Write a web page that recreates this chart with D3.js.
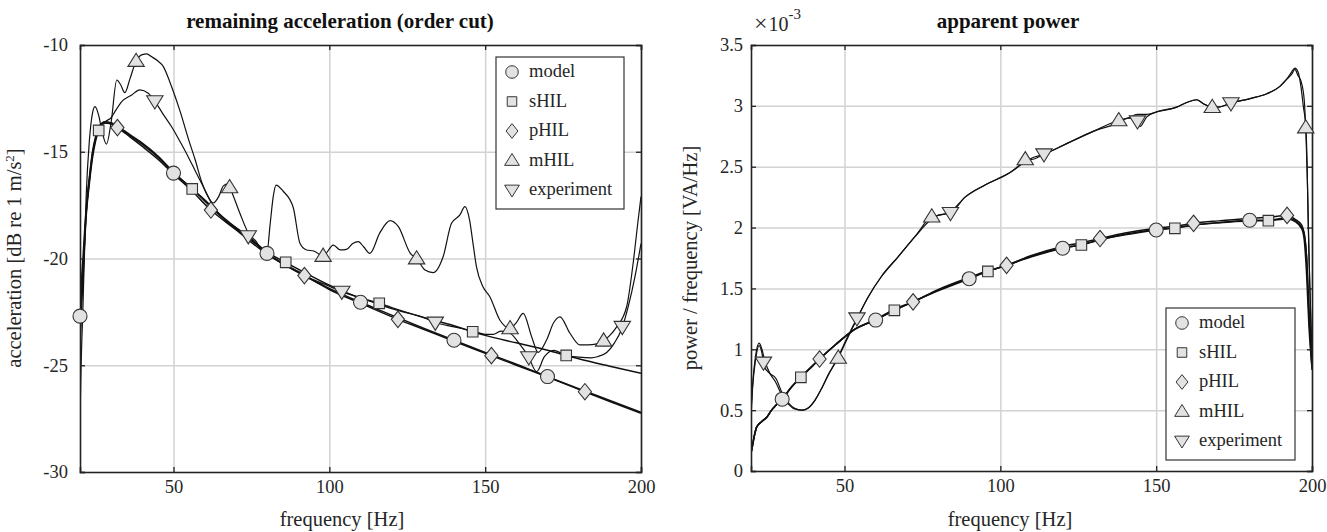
<!DOCTYPE html>
<html><head><meta charset="utf-8">
<script src="https://cdn.jsdelivr.net/npm/d3@7"></script>
<style>
body{margin:0;background:#fff}
svg{display:block}
text{font-family:"Liberation Serif","Times New Roman",serif;fill:#262626}
</style>
</head><body>
<svg id="c" width="1327" height="532"></svg>
<script>
// ---------------- DATA ----------------
const seriesNames = ["model", "sHIL", "pHIL", "mHIL", "experiment"];
const xTicks = [50, 100, 150, 200];
const leftYTicks = [-30, -25, -20, -15, -10];
const rightYTicks = [0, 0.5, 1, 1.5, 2, 2.5, 3, 3.5];

// Left: remaining acceleration (dB re 1 m/s^2)
const L_model_f = [19.6, 20, 21, 22, 23, 24, 25, 26, 28, 30, 32, 36, 40, 45, 50, 55, 60, 65, 70, 75, 80, 90, 100, 110, 120, 130, 140, 150, 160, 170, 180, 190, 200];
const L_model_v = [-45, -22.7, -19.9, -17.6, -16.2, -15.0, -14.3, -13.85, -13.6, -13.65, -13.85, -14.25, -14.65, -15.25, -16.0, -16.6, -17.3, -18.0, -18.6, -19.15, -19.76, -20.65, -21.4, -22.05, -22.65, -23.25, -23.83, -24.4, -24.95, -25.53, -26.1, -26.65, -27.2];

const L_shil_f = [19.6, 20, 21, 22, 23, 24, 25, 26, 28, 30, 32, 36, 40, 45, 50, 56, 60, 65, 70, 75, 80, 86, 90, 100, 110, 116, 120, 130, 140, 146, 150, 160, 170, 176, 180, 190, 200];
const L_shil_v = [-45, -24.5, -20.8, -18.0, -16.5, -15.3, -14.5, -14.0, -13.65, -13.65, -13.8, -14.2, -14.6, -15.2, -15.95, -16.74, -17.25, -17.95, -18.55, -19.1, -19.7, -20.18, -20.5, -21.25, -21.85, -22.1, -22.3, -22.75, -23.15, -23.43, -23.6, -23.95, -24.3, -24.54, -24.7, -25.05, -25.38];

const L_phil_f = [19.6, 20, 21, 22, 23, 24, 25, 26, 28, 30, 32, 36, 40, 45, 50, 55, 62, 70, 80, 92, 100, 110, 122, 130, 140, 152, 160, 170, 182, 190, 200];
const L_phil_v = [-45, -23.8, -20.5, -17.8, -16.3, -15.1, -14.4, -13.9, -13.65, -13.7, -13.87, -14.3, -14.75, -15.35, -16.05, -16.7, -17.73, -18.65, -19.8, -20.8, -21.45, -22.1, -22.85, -23.3, -23.88, -24.55, -25.0, -25.55, -26.24, -26.7, -27.25];

const L_mhil_f = [19.6, 20, 21, 22, 23, 24, 24.8, 26, 27, 28.5, 30, 31.8, 33, 34.4, 36, 38, 40, 41.4, 43, 45, 46.7, 49, 52, 55, 57, 59, 60.6, 62.8, 64.5, 66, 67.5, 69, 71.3, 74, 76.5, 78.8, 80, 81, 82, 82.9, 85.2, 88.4, 90.6, 92.7, 95, 98, 101.3, 103.5, 105.5, 107.5, 109.3, 111, 113, 116.2, 119.5, 122.1, 126, 128, 130.7, 133.3, 136.5, 139.2, 141.9, 143.5, 145, 146.2, 147.2, 149.3, 151.5, 154.7, 158, 160, 162.2, 164.9, 167, 169.7, 172, 174, 177.2, 180.4, 183, 185.8, 188, 190, 192.2, 195.4, 197.5, 199, 200];
const L_mhil_v = [-45, -28, -22, -17, -14.5, -13.2, -12.89, -13.3, -14.0, -14.64, -13.6, -11.64, -11.85, -12.23, -11.6, -10.75, -10.45, -10.42, -10.55, -10.75, -11.0, -11.8, -13.05, -14.5, -15.4, -16.4, -16.95, -17.4, -17.1, -16.6, -16.5, -17.0, -17.88, -18.8, -19.2, -19.68, -19.7, -18.4, -17.1, -16.56, -16.85, -17.6, -19.3, -19.6, -19.65, -19.88, -19.37, -19.6, -19.57, -19.3, -19.21, -19.45, -19.76, -18.8, -18.23, -18.5, -19.76, -20.0, -20.54, -20.66, -19.92, -18.35, -17.96, -17.57, -18.2, -19.4, -20.38, -21.32, -21.79, -22.88, -23.27, -23.0, -22.57, -23.66, -24.4, -23.82, -23.0, -22.73, -23.5, -24.05, -24.05, -24.0, -23.85, -23.6, -23.2, -22.26, -20.2, -18.3, -17.1];

const L_exp_f = [19.6, 20, 21, 22, 23, 24, 25, 26, 28, 30, 31.2, 33.4, 36.6, 39.2, 41.9, 44.1, 46.5, 49.4, 52, 54.7, 57, 59, 62.2, 66.5, 70, 74, 77, 80, 85, 90, 95, 100, 104, 110, 116, 120, 125, 130, 134, 140, 146, 150, 152.6, 155, 158, 161, 163.8, 166.5, 169, 172, 176, 180, 184, 186, 189, 191.5, 193.8, 196, 198, 200];
const L_exp_v = [-45, -24.0, -20.6, -17.9, -16.4, -15.2, -14.4, -13.95, -13.6, -13.4, -13.12, -12.65, -12.34, -12.1, -12.26, -12.65, -13.2, -13.83, -14.5, -15.23, -15.9, -16.48, -17.41, -18.2, -18.55, -18.95, -19.35, -19.75, -20.2, -20.6, -21.0, -21.3, -21.55, -21.85, -22.15, -22.35, -22.55, -22.75, -23.0, -23.2, -23.4, -23.55, -23.55, -23.4, -23.5, -24.0, -24.57, -25.3, -24.6, -24.3, -24.55, -24.62, -24.65, -24.6, -24.4, -23.95, -23.3, -22.2, -20.9, -19.3];

// Right: apparent power / frequency (x 10^-3 VA/Hz)
const R_model_f = [20, 20.2, 21, 21.8, 23.4, 25, 26.6, 28, 30, 33, 36, 40, 42, 47, 53, 60, 66, 72, 80, 90, 96, 102, 110, 120, 126, 132, 140, 150, 156, 162, 170, 180, 186, 192, 194.5, 196.7, 197.5, 198.3, 199, 200];
const R_model_v = [0.15, 0.17, 0.28, 0.36, 0.405, 0.44, 0.50, 0.54, 0.59, 0.69, 0.77, 0.87, 0.92, 1.035, 1.16, 1.24, 1.32, 1.39, 1.48, 1.58, 1.64, 1.69, 1.76, 1.83, 1.86, 1.90, 1.94, 1.98, 2.0, 2.02, 2.04, 2.06, 2.06, 2.08, 2.06, 2.0, 1.95, 1.73, 1.3, 0.83];

const R_shil_f = [20, 20.2, 21, 21.8, 23.4, 25, 26.6, 28, 30, 33, 36, 40, 42, 47, 53, 60, 66, 72, 80, 90, 96, 102, 110, 120, 126, 132, 140, 150, 156, 162, 170, 180, 186, 192, 194.5, 196.7, 197.5, 198.3, 199, 200];
const R_shil_v = [0.15, 0.17, 0.28, 0.36, 0.405, 0.44, 0.50, 0.54, 0.59, 0.69, 0.77, 0.87, 0.92, 1.035, 1.16, 1.245, 1.32, 1.39, 1.485, 1.585, 1.64, 1.69, 1.765, 1.835, 1.857, 1.90, 1.945, 1.985, 1.994, 2.02, 2.04, 2.055, 2.057, 2.07, 2.05, 1.99, 1.9, 1.6, 1.2, 0.85];

const R_phil_f = [20, 20.2, 21, 21.8, 23.4, 25, 26.6, 28, 30, 33, 36, 42, 47, 53, 60, 66, 72, 80, 90, 96, 102, 110, 120, 126, 132, 140, 150, 156, 162, 170, 180, 186, 192, 194.5, 196.7, 197.5, 198.3, 199, 200];
const R_phil_v = [0.15, 0.17, 0.28, 0.36, 0.405, 0.44, 0.50, 0.54, 0.59, 0.69, 0.77, 0.92, 1.035, 1.16, 1.245, 1.33, 1.39, 1.49, 1.59, 1.645, 1.69, 1.77, 1.845, 1.875, 1.91, 1.955, 1.995, 2.01, 2.035, 2.055, 2.075, 2.085, 2.10, 2.07, 2.02, 1.95, 1.75, 1.35, 0.88];

const R_mhil_f = [20, 20.5, 21.5, 22.6, 23.5, 24.5, 26.1, 27.7, 30, 32, 34, 36.3, 38.5, 40.5, 42.7, 45, 48, 50.2, 54, 57.6, 61.9, 67.2, 72.6, 78, 80, 84, 88.7, 95.1, 103.6, 106, 108, 110, 113.8, 121.3, 129.8, 137.8, 141, 144, 147, 150.1, 156.6, 160, 163, 165, 167.8, 170, 173.7, 180.1, 185.5, 189.7, 191.9, 193.5, 194.5, 195.5, 196.5, 197.2, 198.1, 199, 200];
const R_mhil_v = [0.5, 0.7, 0.95, 1.05, 1.0, 0.9, 0.8, 0.74, 0.62, 0.55, 0.51, 0.50, 0.52, 0.58, 0.68, 0.8, 0.93, 1.05, 1.25, 1.43, 1.60, 1.76, 1.925, 2.09, 2.10, 2.13, 2.25, 2.35, 2.46, 2.51, 2.56, 2.56, 2.60, 2.69, 2.79, 2.88, 2.90, 2.93, 2.93, 2.95, 2.99, 3.03, 3.05, 3.02, 2.99, 2.99, 3.02, 3.06, 3.10, 3.16, 3.22, 3.28, 3.31, 3.28, 3.15, 3.0, 2.8, 1.8, 0.9];

const R_exp_f = [20, 20.5, 21.5, 22.6, 23.5, 24.2, 26.1, 28, 30, 32, 34, 36.3, 38.5, 40.5, 42.7, 45, 48, 50.2, 54, 57.6, 61.9, 67.2, 72.6, 78, 80, 84, 88.7, 95.1, 103.6, 108, 110, 113.8, 121.3, 129.8, 137.8, 141, 143.7, 144.8, 147, 150.1, 156.6, 160, 163, 165, 167.8, 170, 173.7, 180.1, 185.5, 189.7, 191.9, 193.5, 194.5, 195.5, 196.5, 197.5, 198.5, 199.3, 200];
const R_exp_v = [0.45, 0.68, 0.92, 1.03, 0.97, 0.86, 0.8, 0.76, 0.64, 0.56, 0.515, 0.50, 0.52, 0.58, 0.68, 0.8, 0.94, 1.06, 1.255, 1.43, 1.60, 1.76, 1.925, 2.07, 2.10, 2.12, 2.25, 2.35, 2.46, 2.54, 2.57, 2.60, 2.69, 2.79, 2.86, 2.90, 2.89, 2.83, 2.91, 2.95, 2.99, 3.03, 3.05, 3.02, 2.99, 2.99, 3.02, 3.06, 3.10, 3.16, 3.22, 3.26, 3.30, 3.25, 3.20, 3.05, 2.4, 1.5, 0.95];

// marker frequencies (first marker, every 30 Hz)
const L_markerStart = [20, 26, 32, 38, 44];
const R_markerStart = [30, 36, 42, 48, 24];
const markerStep = 30;

// ---------------- DRAWING ----------------
const svg = d3.select("#c");
const FONT_TICK = 18.5, FONT_LABEL = 20.5, FONT_TITLE = 21;
const markerShapes = ["circle", "square", "diamond", "triUp", "triDown"];

function markerPath(shape) {
  switch (shape) {
    case "circle": return d3.symbol(d3.symbolCircle, Math.PI * 7 * 7)();
    case "square": return "M-5.3,-5.3H5.3V5.3H-5.3Z";
    case "diamond": return "M0,-8.2L6.6,0L0,8.2L-6.6,0Z";
    case "triUp": return "M0,-7.8L8.2,5.4L-8.2,5.4Z";
    case "triDown": return "M0,7.8L8.2,-5.4L-8.2,-5.4Z";
  }
}

function interp(fs, vs, f) {
  const i = d3.bisectLeft(fs, f);
  if (i < fs.length && fs[i] === f) return vs[i];
  if (i <= 0) return vs[0];
  if (i >= fs.length) return vs[vs.length - 1];
  const t = (f - fs[i - 1]) / (fs[i] - fs[i - 1]);
  return vs[i - 1] + t * (vs[i] - vs[i - 1]);
}

function drawPanel(cfg) {
  const { x0, x1, y0, y1, yDomain, yTicks, series, markerStart, id } = cfg;
  const x = d3.scaleLinear().domain([20, 200]).range([x0, x1]);
  const y = d3.scaleLinear().domain(yDomain).range([y1, y0]);
  const g = svg.append("g");
  const W = x1 - x0, H = y1 - y0;

  g.append("clipPath").attr("id", "clip" + id)
    .append("rect").attr("x", x0).attr("y", y0).attr("width", W).attr("height", H);

  // grid
  const gx = g.append("g").attr("transform", `translate(0,${y1})`)
    .call(d3.axisBottom(x).tickValues(xTicks).tickSize(-H).tickFormat(""));
  const gy = g.append("g").attr("transform", `translate(${x0},0)`)
    .call(d3.axisLeft(y).tickValues(yTicks).tickSize(-W).tickFormat(""));
  [gx, gy].forEach(s => {
    s.select(".domain").remove();
    s.selectAll("line").attr("stroke", "#d2d2d2").attr("stroke-width", 1.5);
  });

  // lines
  const line = d3.line().x(d => x(d[0])).y(d => y(d[1])).curve(d3.curveMonotoneX);
  const lg = g.append("g").attr("clip-path", `url(#clip${id})`);
  series.forEach((s, k) => {
    const pts = s.f.map((f, i) => [f, s.v[i]]);
    lg.append("path").attr("d", line(pts)).attr("fill", "none")
      .attr("stroke", "#111").attr("stroke-width", k < 3 ? 1.5 : 1.2)
      .attr("stroke-linejoin", "round");
  });

  // axes (box + inside ticks)
  const axB = g.append("g").attr("transform", `translate(0,${y1})`)
    .call(d3.axisBottom(x).tickValues(xTicks).tickSize(-5).tickPadding(8).tickFormat(d => String(d)));
  axB.selectAll("text").attr("y", 21).attr("dy", 0);
  const axT = g.append("g").attr("transform", `translate(0,${y0})`)
    .call(d3.axisTop(x).tickValues(xTicks).tickSize(-5).tickFormat(""));
  const axL = g.append("g").attr("transform", `translate(${x0},0)`)
    .call(d3.axisLeft(y).tickValues(yTicks).tickSize(-5).tickPadding(cfg.tickPad).tickFormat(d => String(d)));
  const axR = g.append("g").attr("transform", `translate(${x1},0)`)
    .call(d3.axisRight(y).tickValues(yTicks).tickSize(-5).tickFormat(""));
  [axB, axT, axL, axR].forEach(a => {
    a.select(".domain").attr("stroke", "#222").attr("stroke-width", 1.6);
    a.selectAll(".tick line").attr("stroke", "#222").attr("stroke-width", 1.3);
    a.selectAll("text").attr("font-size", FONT_TICK).attr("font-family", '"Liberation Serif",serif').attr("fill", "#262626");
  });

  // markers
  const mg = g.append("g");
  series.forEach((s, k) => {
    const mf = d3.range(markerStart[k], 200, markerStep);
    mf.forEach(f => {
      mg.append("path").attr("d", markerPath(markerShapes[k]))
        .attr("transform", `translate(${x(f)},${y(interp(s.f, s.v, f))})`)
        .attr("fill", "#e2e2e2").attr("stroke", "#333").attr("stroke-width", 1.1);
    });
  });

  // legend
  const L = cfg.legend;
  g.append("rect").attr("x", L.x).attr("y", L.y).attr("width", L.w).attr("height", L.h)
    .attr("fill", "#fff").attr("stroke", "#333").attr("stroke-width", 1.2);
  seriesNames.forEach((n, k) => {
    const by = L.y + 20 + k * 29.5;
    g.append("path").attr("d", markerPath(markerShapes[k]))
      .attr("transform", `translate(${L.x + 16},${by - 5}) scale(0.9)`)
      .attr("fill", "#e2e2e2").attr("stroke", "#333").attr("stroke-width", 1.1);
    g.append("text").attr("x", L.x + 33).attr("y", by).style("font-size", FONT_TICK + "px").text(n);
  });

  // title & labels
  g.append("text").attr("x", cfg.titleX).attr("y", 28).attr("text-anchor", "middle")
    .style("font-size", FONT_TITLE + "px").attr("font-weight", "bold").style("fill", "#111").text(cfg.title);
  g.append("text").attr("x", cfg.titleX + 2).attr("y", 526).attr("text-anchor", "middle")
    .style("font-size", FONT_LABEL + "px").text("frequency [Hz]");
  g.append("text").attr("transform", `translate(${cfg.ylabX},258) rotate(-90)`)
    .attr("text-anchor", "middle").style("font-size", FONT_LABEL + "px").html(cfg.ylabel);
  return { x, y };
}

drawPanel({
  id: "L", x0: 80, x1: 641, y0: 45, y1: 472, yDomain: [-30, -10], yTicks: leftYTicks, tickPad: 12,
  series: [
    { f: L_model_f, v: L_model_v }, { f: L_shil_f, v: L_shil_v }, { f: L_phil_f, v: L_phil_v },
    { f: L_mhil_f, v: L_mhil_v }, { f: L_exp_f, v: L_exp_v }],
  markerStart: L_markerStart,
  legend: { x: 496, y: 57, w: 128, h: 152 },
  title: "remaining acceleration (order cut)", titleX: 340,
  ylabX: 21, ylabel: 'acceleration [dB re 1 m/s<tspan dy="-7" font-size="13">2</tspan><tspan dy="7">]</tspan>'
});

drawPanel({
  id: "R", x0: 751, x1: 1312, y0: 45, y1: 471, yDomain: [0, 3.5], yTicks: rightYTicks, tickPad: 8,
  series: [
    { f: R_model_f, v: R_model_v }, { f: R_shil_f, v: R_shil_v }, { f: R_phil_f, v: R_phil_v },
    { f: R_mhil_f, v: R_mhil_v }, { f: R_exp_f, v: R_exp_v }],
  markerStart: R_markerStart,
  legend: { x: 1166, y: 308, w: 129, h: 152 },
  title: "apparent power", titleX: 1008,
  ylabX: 697, ylabel: "power / frequency [VA/Hz]"
});

// exponent label
const expo = svg.append("text").attr("x", 754).attr("y", 31);
expo.append("tspan").style("font-size", "24px").text("×");
expo.append("tspan").attr("dx", 1).style("font-size", "20px").text("10");
expo.append("tspan").attr("dy", -12).style("font-size", "15px").text("-3");
</script>
</body></html>
